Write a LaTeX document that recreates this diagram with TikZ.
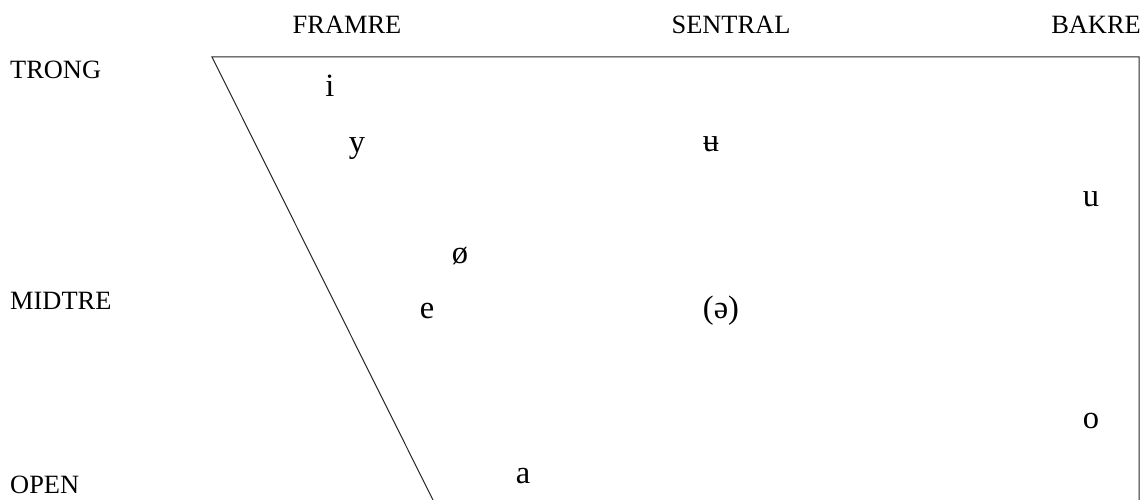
\documentclass[tikz,border=0pt]{standalone}
\usepackage{fontspec}
\setmainfont{Liberation Serif}
\newcommand{\chartlabelfont}{\fontsize{26.4}{31}\selectfont}
\newcommand{\chartvowelfont}{\fontsize{32.5}{39}\selectfont}
\begin{document}
\begin{tikzpicture}
  [x=1pt, y=-1pt,
    column label/.style={
      anchor=base,
      inner sep=0pt,
      font=\chartlabelfont
    },
    row label/.style={
      anchor=base west,
      inner sep=0pt,
      font=\chartlabelfont
    },
    vowel/.style={
      anchor=base,
      inner sep=0pt,
      font=\chartvowelfont
    },
  ]
\useasboundingbox (0,0) rectangle (1144,500);

% Corners of the chart
\coordinate (top-left) at (212,57);
\coordinate (top-right) at (1139,57);
\coordinate (bottom-right) at (1139,500);
\coordinate (bottom-left) at (433,500);

% Draw chart outline
\draw [line width=1pt, black!85] (bottom-left) -- (top-left) -- (top-right) -- (bottom-right);

% Column labels
\foreach \l/\x [count=\i] in {FRAMRE/347, SENTRAL/731, BAKRE/1096}
  \node [column label] (col-\i) at (\x,34) {\l};

% Row labels
\foreach \l/\y [count=\i] in {TRONG/79, MIDTRE/309, OPEN/493}
  \node [row label] (row-\i) at (10,\y) {\l};

% Vowels
\foreach \v/\n/\x/\y in {i/i/330/97, y/y/357/153, ʉ/ubar/711/152,
    u/u/1091/207, ø/oslash/460/263, e/e/427/318, (ə)/schwa/721/318,
    o/o/1091/428, a/a/523/483}
  \node [vowel] (vowel-\n) at (\x,\y) {\v};
\end{tikzpicture}
\end{document}
